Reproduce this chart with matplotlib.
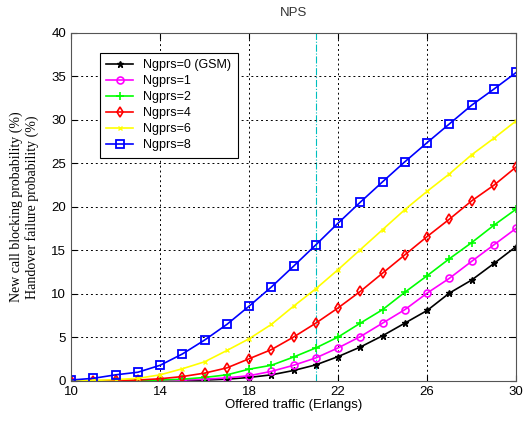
import matplotlib.pyplot as plt
import numpy as np

# Dados (trafego oferecido x probabilidade em %)
trafego = np.arange(10, 31)
ngprs0 = [0, 0, 0, 0, 0, 0.05, 0.1, 0.2, 0.4, 0.7, 1.2, 1.85, 2.8, 3.9, 5.2, 6.65, 8.1, 10.1, 11.6, 13.5, 15.45]
ngprs1 = [0, 0, 0, 0, 0.05, 0.1, 0.2, 0.35, 0.6, 1.1, 1.8, 2.65, 3.8, 5.1, 6.65, 8.2, 10.1, 11.8, 13.75, 15.65, 17.55]
ngprs2 = [0, 0, 0, 0.05, 0.1, 0.2, 0.4, 0.7, 1.35, 1.8, 2.75, 3.8, 5.05, 6.65, 8.2, 10.2, 12.1, 14.05, 15.9, 17.9, 19.75]
ngprs4 = [0, 0.02, 0.05, 0.1, 0.25, 0.5, 0.9, 1.5, 2.55, 3.6, 5.05, 6.65, 8.4, 10.3, 12.4, 14.5, 16.6, 18.6, 20.7, 22.5, 24.6]
ngprs6 = [0, 0.05, 0.15, 0.3, 0.7, 1.4, 2.2, 3.5, 4.85, 6.5, 8.6, 10.6, 12.8, 15.1, 17.4, 19.7, 21.8, 23.8, 26.0, 27.9, 29.9]
ngprs8 = [0.1, 0.3, 0.7, 1.0, 1.8, 3.1, 4.7, 6.5, 8.6, 10.8, 13.2, 15.65, 18.15, 20.56, 22.9, 25.2, 27.4, 29.55, 31.7, 33.55, 35.46]
linha_ref = 21

plt.rcParams['font.family'] = ['Liberation Sans', 'DejaVu Sans']

fig = plt.figure(figsize=(5.23, 4.28), dpi=100)
ax = fig.add_axes([0.136, 0.110, 0.851, 0.813])

ax.plot(trafego, ngprs0, '-*', color='black', lw=1.2, ms=5, label='Ngprs=0 (GSM)')
ax.plot(trafego, ngprs1, '-o', color='magenta', lw=1.2, ms=5, mfc='none', mew=1.2, label='Ngprs=1')
ax.plot(trafego, ngprs2, '-+', color='#00ff00', lw=1.2, ms=6, mew=1.2, label='Ngprs=2')
ax.plot(trafego, ngprs4, '-d', color='red', lw=1.2, ms=5.5, mfc='none', mew=1.2, label='Ngprs=4')
ax.plot(trafego, ngprs6, '-x', color='yellow', lw=1.2, ms=3.5, label='Ngprs=6')
ax.plot(trafego, ngprs8, '-s', color='blue', lw=1.2, ms=6, mfc='none', mew=1.3, label='Ngprs=8')

# linha vertical de referencia
ax.axvline(linha_ref, color='#00bfbf', lw=0.8, ls='-.', zorder=0)

ax.set_xlim(10, 30)
ax.set_ylim(0, 40)
ax.set_xticks([10, 14, 18, 22, 26, 30])
ax.set_yticks(np.arange(0, 41, 5))
ax.tick_params(direction='in', top=True, right=True, labelsize=9.5, length=4)
ax.grid(True, color='black', ls=(0, (2, 3)), lw=0.7)
for s in ax.spines.values():
    s.set_color('#555555')

ax.set_title('NPS', fontsize=9.5, pad=12, color='#333333')
ax.set_xlabel('Offered traffic (Erlangs)', fontsize=9.5, labelpad=1)
ax.set_ylabel('New call blocking probability (%)\nHandover failure probability (%)',
              fontsize=10, family='Liberation Serif', labelpad=9)

leg = ax.legend(loc='upper left', bbox_to_anchor=(0.05, 0.96), fontsize=9,
                fancybox=False, framealpha=1, edgecolor='black',
                handlelength=2.2, borderpad=0.5, labelspacing=0.32)
leg.get_frame().set_linewidth(0.8)

fig.savefig('out.png', dpi=100)
